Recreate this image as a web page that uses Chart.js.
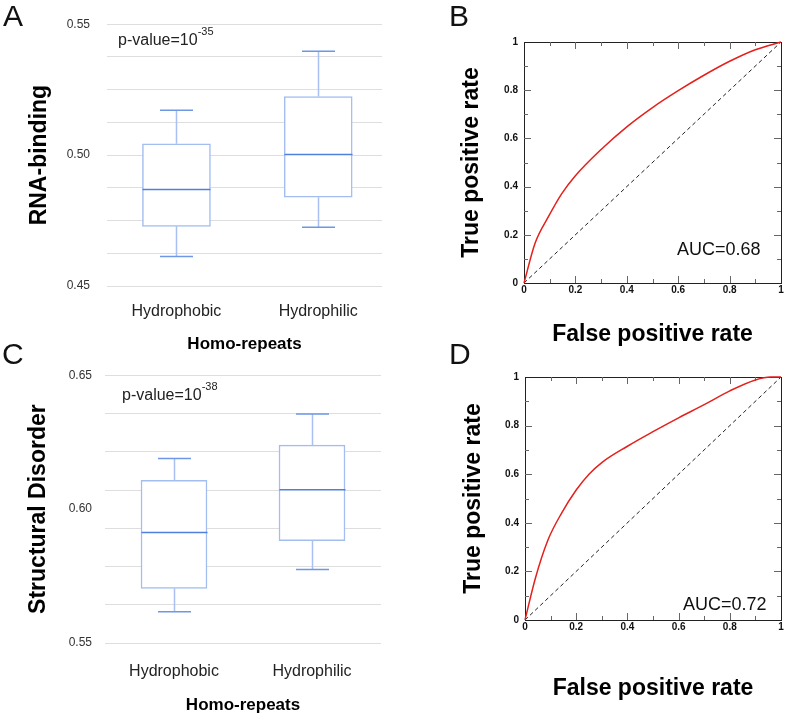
<!DOCTYPE html>
<html>
<head>
<meta charset="utf-8">
<script src="https://cdn.jsdelivr.net/npm/chart.js@4.4.1/dist/chart.umd.min.js"></script>
<style>
  body { margin: 0; background: #fff; width: 787px; height: 717px; position: relative; overflow: hidden;
         font-family: "Liberation Sans", Arial, sans-serif; }
  canvas, .txt { position: absolute; }
  .letter { font-size: 30px; line-height: 30px; color: #111; }
  .pval { font-size: 16px; line-height: 16px; color: #222; white-space: nowrap; }
  .pval sup { font-size: 11px; line-height: 0; vertical-align: 10px; }
  .auc { font-size: 18px; line-height: 18px; color: #111; white-space: nowrap; }
</style>
</head>
<body>

<canvas id="chartA" width="395" height="360" style="left:0;top:0"></canvas>
<canvas id="chartB" width="387" height="350" style="left:400px;top:0"></canvas>
<canvas id="chartC" width="395" height="362" style="left:0;top:355px"></canvas>
<canvas id="chartD" width="387" height="362" style="left:400px;top:355px"></canvas>

<div class="txt letter" style="left:3px;top:1px">A</div>
<div class="txt letter" style="left:449px;top:1px">B</div>
<div class="txt letter" style="left:2px;top:339px">C</div>
<div class="txt letter" style="left:449px;top:339px">D</div>

<div class="txt pval" style="left:118px;top:31px">p-value=10<sup>-35</sup></div>
<div class="txt pval" style="left:122px;top:386px">p-value=10<sup>-38</sup></div>
<div class="txt auc" style="left:677px;top:240px">AUC=0.68</div>
<div class="txt auc" style="left:683px;top:595px">AUC=0.72</div>

<script>
const categories = ['Hydrophobic', 'Hydrophilic'];

// panel A - RNA-binding box plot
const rnaMin    = [0.4613, 0.4724];
const rnaQ1     = [0.4728, 0.4839];
const rnaMedian = [0.4869, 0.5002];
const rnaQ3     = [0.5043, 0.5224];
const rnaMax    = [0.5171, 0.5397];
const rnaTicks    = [0.45, 0.4625, 0.475, 0.4875, 0.5, 0.5125, 0.525, 0.5375, 0.55];
const rnaLabelled = [0.45, 0.50, 0.55];

// panel C - structural disorder box plot
const disMin    = [0.5617, 0.5774];
const disQ1     = [0.5704, 0.5882];
const disMedian = [0.5913, 0.6072];
const disQ3     = [0.6107, 0.6239];
const disMax    = [0.6189, 0.6355];
const disTicks    = [0.55, 0.5643, 0.5786, 0.5929, 0.60, 0.6071, 0.6214, 0.6357, 0.65];
const disLabelled = [0.55, 0.60, 0.65];
const disNoGrid   = [0.60];

// panel B - ROC, RNA-binding
const rocFprB = [0, 0.043, 0.095, 0.147, 0.2, 0.3, 0.4, 0.5, 0.6, 0.7, 0.8, 0.9, 1];
const rocTprB = [0, 0.165, 0.275, 0.371, 0.445, 0.554, 0.648, 0.728, 0.798, 0.862, 0.92, 0.968, 1];

// panel D - ROC, structural disorder
const rocFprD = [0, 0.04, 0.09, 0.143, 0.2, 0.25, 0.3, 0.4, 0.5, 0.6, 0.7, 0.8, 0.9, 0.96, 1];
const rocTprD = [0, 0.17, 0.33, 0.44, 0.535, 0.6, 0.648, 0.715, 0.775, 0.832, 0.886, 0.943, 0.988, 1, 1];

const diagonal = [0, 1];

const FONT = '"Liberation Sans", Arial, sans-serif';
Chart.defaults.font.family = FONT;
Chart.defaults.animation = false;

const near = (list, v) => list.some(t => Math.abs(t - v) < 1e-6);


// whiskers, caps and median lines, placed through the chart's own scales
const makeBoxPlugin = (stats, boxWidth) => ({
    id: 'boxWhiskers',
    afterDatasetsDraw(chart) {
        const {ctx, scales: {x, y}} = chart;
        const half = boxWidth / 2;
        const cap = 16.5;
        ctx.save();
        ctx.lineWidth = 1.5;
        stats.median.forEach((m, i) => {
            const px = Math.round(x.getPixelForValue(i)) + 0.5;

            ctx.strokeStyle = '#a9c1f2';
            ctx.beginPath();
            ctx.moveTo(px, y.getPixelForValue(stats.q3[i]));
            ctx.lineTo(px, y.getPixelForValue(stats.max[i]));
            ctx.moveTo(px, y.getPixelForValue(stats.q1[i]));
            ctx.lineTo(px, y.getPixelForValue(stats.min[i]));
            ctx.stroke();

            ctx.strokeStyle = '#6f97e6';
            ctx.beginPath();
            ctx.moveTo(px - cap, y.getPixelForValue(stats.max[i]));
            ctx.lineTo(px + cap, y.getPixelForValue(stats.max[i]));
            ctx.moveTo(px - cap, y.getPixelForValue(stats.min[i]));
            ctx.lineTo(px + cap, y.getPixelForValue(stats.min[i]));
            ctx.stroke();

            ctx.strokeStyle = '#4f80dd';
            ctx.beginPath();
            ctx.moveTo(px - half, y.getPixelForValue(m));
            ctx.lineTo(px + half, y.getPixelForValue(m));
            ctx.stroke();
        });
        ctx.restore();
    }
});


const boxConfig = (o) => ({
    type: 'bar',
    data: {
        datasets: [{
            data: categories.map((c, i) => ({x: i, y: [o.stats.q1[i], o.stats.q3[i]]})),
            backgroundColor: '#ffffff',
            borderColor: '#a3bdf0',
            borderWidth: 1.5,
            borderSkipped: false,
            barThickness: o.boxWidth
        }]
    },
    options: {
        responsive: false,
        layout: {padding: o.padding},
        plugins: {legend: {display: false}, tooltip: {enabled: false}},
        scales: {
            x: {
                type: 'linear',
                min: o.xMin,
                max: o.xMax,
                offset: false,
                afterBuildTicks: s => { s.ticks = categories.map((c, i) => ({value: i})); },
                afterFit: s => { s.height = o.xHeight; },
                grid: {display: false, drawTicks: false},
                border: {display: false},
                ticks: {
                    padding: o.xTickPad,
                    color: '#222',
                    font: {size: 16},
                    callback: v => categories[v]
                },
                title: {
                    display: true,
                    text: 'Homo-repeats',
                    color: '#000',
                    font: {size: 17, weight: 'bold'},
                    padding: {top: 0, bottom: o.xTitlePad}
                }
            },
            y: {
                min: o.ticks[0],
                max: o.ticks[o.ticks.length - 1],
                beginAtZero: false,
                afterBuildTicks: s => { s.ticks = o.ticks.map(v => ({value: v})); },
                afterFit: s => { s.width = o.yWidth; },
                grid: {
                    drawTicks: false,
                    lineWidth: 1,
                    color: c => (o.noGrid && c.tick && near(o.noGrid, c.tick.value)) ? 'rgba(0,0,0,0)' : '#dedede'
                },
                border: {display: false},
                ticks: {
                    padding: o.yTickPad,
                    color: '#333',
                    font: {size: 12},
                    autoSkip: false,
                    callback: v => near(o.labelled, v) ? v.toFixed(2) : ''
                },
                title: {
                    display: true,
                    text: o.yTitle,
                    color: '#000',
                    font: {size: 23, weight: 'bold'},
                    padding: {top: o.yTitlePad, bottom: 0}
                }
            }
        }
    },
    plugins: [makeBoxPlugin(o.stats, o.boxWidth)]
});


// frame with inward ticks on all four sides
const rocFrame = {
    id: 'rocFrame',
    beforeDatasetsDraw(chart) {
        const {ctx, chartArea: a, scales: {x, y}} = chart;
        ctx.save();
        ctx.strokeStyle = '#222';
        ctx.lineWidth = 1;
        ctx.strokeRect(Math.round(a.left) + 0.5, Math.round(a.top) + 0.5,
                       Math.round(a.right - a.left), Math.round(a.bottom - a.top));
        ctx.strokeStyle = '#666';
        ctx.beginPath();
        for (let k = 1; k < 10; k++) {
            const len = k % 2 ? 4 : 7;
            const px = Math.round(x.getPixelForValue(k / 10)) + 0.5;
            const py = Math.round(y.getPixelForValue(k / 10)) + 0.5;
            ctx.moveTo(px, a.bottom); ctx.lineTo(px, a.bottom - len);
            ctx.moveTo(px, a.top);    ctx.lineTo(px, a.top + len);
            ctx.moveTo(a.left, py);   ctx.lineTo(a.left + len, py);
            ctx.moveTo(a.right, py);  ctx.lineTo(a.right - len, py);
        }
        ctx.stroke();
        ctx.restore();
    }
};

const rocTick = v => String(Number(v.toFixed(1)));


const rocConfig = (o) => ({
    type: 'scatter',
    data: {
        datasets: [
            {
                data: o.fpr.map((v, i) => ({x: v, y: o.tpr[i]})),
                showLine: true,
                borderColor: '#e3201b',
                borderWidth: 1.5,
                pointRadius: 0,
                cubicInterpolationMode: 'monotone',
                clip: 2
            },
            {
                data: diagonal.map(v => ({x: v, y: v})),
                showLine: true,
                borderColor: '#222',
                borderWidth: 1,
                borderDash: [4, 3],
                pointRadius: 0
            }
        ]
    },
    options: {
        responsive: false,
        layout: {padding: o.padding},
        plugins: {legend: {display: false}, tooltip: {enabled: false}},
        scales: {
            x: {
                min: 0, max: 1,
                afterFit: s => { s.height = o.xHeight; },
                grid: {display: false, drawTicks: false},
                border: {display: false},
                ticks: {stepSize: 0.2, padding: 1, color: '#111', font: {size: 10, weight: 'bold'}, callback: rocTick},
                title: {
                    display: true,
                    text: 'False positive rate',
                    color: '#000',
                    font: {size: 23, weight: 'bold'},
                    padding: {top: 0, bottom: o.xTitlePad}
                }
            },
            y: {
                min: 0, max: 1,
                afterFit: s => { s.width = o.yWidth; },
                grid: {display: false, drawTicks: false},
                border: {display: false},
                ticks: {stepSize: 0.2, padding: 6, color: '#111', font: {size: 10, weight: 'bold'}, callback: rocTick},
                title: {
                    display: true,
                    text: 'True positive rate',
                    color: '#000',
                    font: {size: 23, weight: 'bold'},
                    padding: {top: o.yTitlePad, bottom: 0}
                }
            }
        }
    },
    plugins: [rocFrame]
});


document.addEventListener('DOMContentLoaded', () => {
    new Chart(document.getElementById('chartA'), boxConfig({
        stats: {min: rnaMin, q1: rnaQ1, median: rnaMedian, q3: rnaQ3, max: rnaMax},
        ticks: rnaTicks, labelled: rnaLabelled,
        yTitle: 'RNA-binding',
        boxWidth: 68, xMin: -0.49, xMax: 1.45,
        padding: {top: 21, right: 13, bottom: 0, left: 0},
        yWidth: 107, xHeight: 74,
        yTickPad: 17, xTickPad: 16, yTitlePad: 26, xTitlePad: 5
    }));

    new Chart(document.getElementById('chartC'), boxConfig({
        stats: {min: disMin, q1: disQ1, median: disMedian, q3: disQ3, max: disMax},
        ticks: disTicks, labelled: disLabelled, noGrid: disNoGrid,
        yTitle: 'Structural Disorder',
        boxWidth: 66, xMin: -0.5, xMax: 1.5,
        padding: {top: 17, right: 14, bottom: 0, left: 0},
        yWidth: 105, xHeight: 74,
        yTickPad: 13, xTickPad: 19, yTitlePad: 25, xTitlePad: 1
    }));

    new Chart(document.getElementById('chartB'), rocConfig({
        fpr: rocFprB, tpr: rocTprB,
        padding: {top: 42, right: 6, bottom: 0, left: 0},
        yWidth: 124, xHeight: 67, yTitlePad: 58, xTitlePad: 2
    }));

    new Chart(document.getElementById('chartD'), rocConfig({
        fpr: rocFprD, tpr: rocTprD,
        padding: {top: 22, right: 6, bottom: 0, left: 0},
        yWidth: 125, xHeight: 97, yTitlePad: 60, xTitlePad: 15
    }));
});
</script>
</body>
</html>
